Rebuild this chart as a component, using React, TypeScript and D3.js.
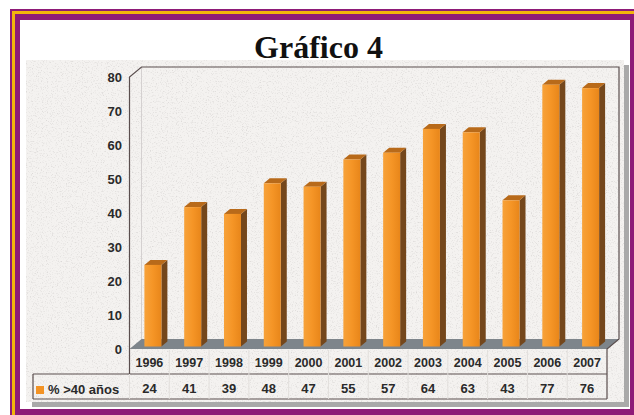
import React from 'react';
import * as d3 from 'd3';

const title = 'Gráfico 4';
const years = ['1996', '1997', '1998', '1999', '2000', '2001', '2002', '2003', '2004', '2005', '2006', '2007'];
const values = [24, 41, 39, 48, 47, 55, 57, 64, 63, 43, 77, 76];
const yTicks = [0, 10, 20, 30, 40, 50, 60, 70, 80];
const seriesName = '% >40 años';

const W = 634;
const H = 415;

export default function App() {
  const x = d3.scaleBand<string>().domain(years).range([129.5, 607]).padding(0);
  const y = d3.scaleLinear().domain([0, 80]).range([349, 77]);
  const DX = 12;
  const DY = -10;
  const x0 = 129.5;
  const x1 = 607;
  const y0 = y(0);
  const yTop = y(80);
  const rowMid = 374;
  const rowBot = 399;
  const lineCol = '#5a4e4e';
  const font = 'Liberation Sans, Arial, sans-serif';

  const barW = 17;
  const barOffX = 3.5;
  const barOffY = -2.5;
  const sideDX = 6;
  const sideDY = -5;

  return (
    <svg width={W} height={H} style={{ position: 'absolute', left: 0, top: 0 }}>
      <defs>
        <filter id="granite" x="0" y="0" width="1" height="1" filterUnits="objectBoundingBox">
          <feTurbulence type="fractalNoise" baseFrequency="0.8" numOctaves="2" seed="7" result="n" />
          <feColorMatrix
            in="n"
            type="matrix"
            values="0 0 0 0 0.6  0 0 0 0 0.58  0 0 0 0 0.57  1.8 0 0 0 -0.95"
          />
        </filter>
        <linearGradient id="barFront" x1="0" x2="1" y1="0" y2="0">
          <stop offset="0" stopColor="#f7a23a" />
          <stop offset="0.5" stopColor="#f59526" />
          <stop offset="1" stopColor="#e8861a" />
        </linearGradient>
      </defs>

      {/* page */}
      <rect x={0} y={0} width={W} height={H} fill="#ffffff" />
      {/* frame */}
      <rect x={10} y={9} width={W} height={H} fill="#8e1a78" />
      <rect x={12} y={11} width={W} height={H} fill="#f2b40c" />
      <rect x={15} y={14} width={W} height={H} fill="#8e1a78" />
      <rect x={20} y={20} width={610} height={389} fill="#ffffff" />

      {/* chart area with shadow */}
      <rect x={32} y={65} width={597} height={342} fill="#a9a9a9" />
      <rect x={26} y={60} width={598} height={342} fill="#f4f2f0" />
      <rect x={26} y={60} width={598} height={342} fill="#000" filter="url(#granite)" />

      {/* title */}
      <text
        x={318.5}
        y={58}
        textAnchor="middle"
        fontFamily="Liberation Serif, Times New Roman, serif"
        fontWeight="bold"
        fontSize={32}
        fill="#111"
      >
        {title}
      </text>

      {/* floor */}
      <polygon
        points={`${x0},${y0} ${x0 + DX},${y0 + DY} ${x1 + DX},${y0 + DY} ${x1},${y0}`}
        fill="#7e858b"
      />
      {/* left wall inner edge */}
      <line x1={x0 + DX} y1={yTop + DY} x2={x0 + DX} y2={y0 + DY} stroke="#d4d0d0" strokeWidth={1} />

      {/* bars */}
      {years.map((yr, i) => {
        const v = values[i];
        const cx = (x(yr) as number) + x.bandwidth() / 2;
        const fx = cx + barOffX - barW / 2;
        const fTop = y(v) + barOffY;
        const fBot = y(0) + barOffY;
        return (
          <g key={yr}>
            <polygon
              points={`${fx + barW},${fTop} ${fx + barW + sideDX},${fTop + sideDY} ${fx + barW + sideDX},${fBot + sideDY} ${fx + barW},${fBot}`}
              fill="#74471c"
            />
            <polygon
              points={`${fx},${fTop} ${fx + sideDX},${fTop + sideDY} ${fx + barW + sideDX},${fTop + sideDY} ${fx + barW},${fTop}`}
              fill="#b86a1a"
            />
            <rect x={fx} y={fTop} width={barW} height={fBot - fTop} fill="url(#barFront)" />
          </g>
        );
      })}

      {/* walls outline */}
      <polyline
        points={`${x0},${rowMid} ${x0},${yTop} ${x0 + DX},${yTop + DY} ${x1 + DX},${yTop + DY} ${x1 + DX},${y0 + DY} ${x1},${y0} ${x1},${rowBot}`}
        fill="none"
        stroke={lineCol}
        strokeWidth={1.2}
      />

      {/* y axis labels */}
      {yTicks.map((t) => (
        <text
          key={t}
          x={122}
          y={y(t)}
          dy="0.36em"
          textAnchor="end"
          fontFamily={font}
          fontWeight="bold"
          fontSize={13}
          fill="#2a2a2a"
        >
          {t}
        </text>
      ))}

      {/* data table */}
      <line x1={33} y1={rowMid} x2={x1} y2={rowMid} stroke={lineCol} strokeWidth={1.2} />
      <line x1={33} y1={rowBot} x2={x1} y2={rowBot} stroke={lineCol} strokeWidth={1.2} />
      <line x1={33} y1={rowMid} x2={33} y2={rowBot} stroke={lineCol} strokeWidth={1.2} />
      {years.slice(1).map((yr) => (
        <line
          key={'d' + yr}
          x1={x(yr) as number}
          y1={y0 + 1}
          x2={x(yr) as number}
          y2={rowBot}
          stroke="#e2dfdc"
          strokeWidth={1}
        />
      ))}
      <line x1={x0} y1={rowMid} x2={x0} y2={rowBot} stroke="#e2dfdc" strokeWidth={1} />
      {years.map((yr, i) => {
        const cx = (x(yr) as number) + x.bandwidth() / 2;
        return (
          <g key={'t' + yr}>
            <text x={cx} y={367} textAnchor="middle" fontFamily={font} fontWeight="bold" fontSize={12.5} fill="#2a2a2a">
              {yr}
            </text>
            <text x={cx} y={393} textAnchor="middle" fontFamily={font} fontWeight="bold" fontSize={13} fill="#2a2a2a">
              {values[i]}
            </text>
          </g>
        );
      })}
      {/* legend key */}
      <rect x={36} y={386} width={8} height={8} fill="#f39325" />
      <text x={48} y={394} fontFamily={font} fontWeight="bold" fontSize={13} fill="#2a2a2a">
        {seriesName}
      </text>
    </svg>
  );
}
